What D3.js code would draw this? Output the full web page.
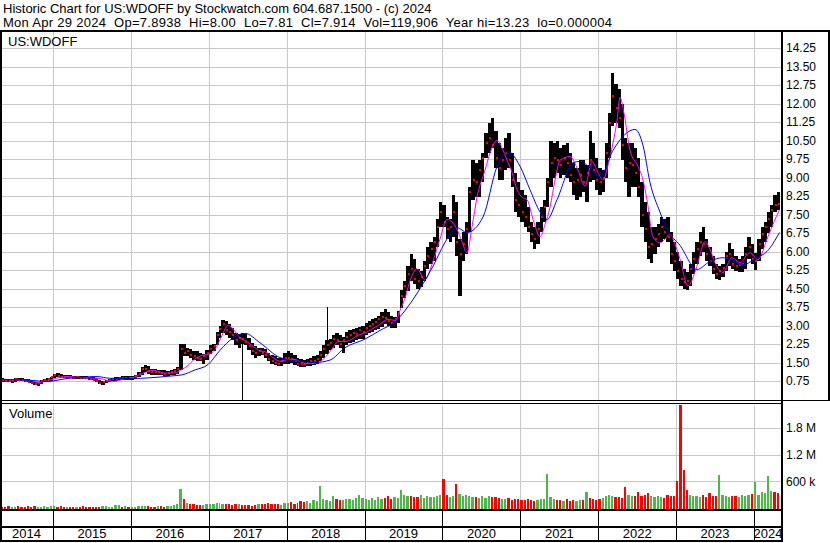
<!DOCTYPE html>
<html><head><meta charset="utf-8">
<script src="https://cdn.jsdelivr.net/npm/d3@7"></script>
<style>
html,body{margin:0;padding:0;background:#fff;}
svg{display:block;}
text{font-family:"Liberation Sans",Arial,sans-serif;fill:#000;}
</style></head><body>
<svg id="c" width="830" height="543"></svg>
<script>
const headerLine1 = "Historic Chart for US:WDOFF by Stockwatch.com 604.687.1500 - (c) 2024";
const headerLine2 = "Mon Apr 29 2024  Op=7.8938  Hi=8.00  Lo=7.81  Cl=7.914  Vol=119,906  Year hi=13.23  lo=0.000004";
const symbolLabel = "US:WDOFF";
const volumeLabel = "Volume";
const priceTicks = [0.75,1.5,2.25,3,3.75,4.5,5.25,6,6.75,7.5,8.25,9,9.75,10.5,11.25,12,12.75,13.5,14.25];
const volumeTicks = [600000,1200000,1800000];
const volumeTickLabels = ["600 k","1.2 M","1.8 M"];
const yearLabels = ["2014","2015","2016","2017","2018","2019","2020","2021","2022","2023","2024"];
const firstPeriod = "2014-05-01";
const lastDate = "2024-04-29";

// half-month periods: [low, high, close]
const px2014 = [[0.72,0.86,0.78],[0.70,0.84,0.76],[0.70,0.82,0.74],[0.68,0.80,0.77],[0.72,0.86,0.82],[0.74,0.88,0.80],[0.74,0.86,0.78],[0.72,0.84,0.76],[0.70,0.82,0.72],[0.66,0.78,0.68],[0.58,0.72,0.62],[0.55,0.70,0.66],[0.62,0.78,0.74],[0.70,0.84,0.80],[0.74,0.88,0.84],[0.76,0.92,0.90]];
const px2015 = [[0.88,1.05,0.98],[0.90,1.08,0.95],[0.88,1.04,0.92],[0.86,1.00,0.90],[0.84,0.98,0.92],[0.86,0.98,0.90],[0.84,0.96,0.88],[0.84,0.96,0.90],[0.82,0.95,0.88],[0.84,0.96,0.89],[0.82,0.94,0.86],[0.80,0.93,0.84],[0.78,0.92,0.80],[0.72,0.86,0.74],[0.64,0.80,0.66],[0.60,0.76,0.70],[0.66,0.80,0.76],[0.70,0.84,0.79],[0.74,0.88,0.82],[0.76,0.90,0.85],[0.78,0.92,0.87],[0.80,0.94,0.86],[0.80,0.94,0.88],[0.80,0.95,0.86]];
const px2016 = [[0.80,0.95,0.88],[0.82,0.98,0.94],[0.90,1.10,1.05],[1.00,1.30,1.22],[1.10,1.40,1.25],[1.05,1.35,1.15],[1.00,1.25,1.12],[1.00,1.22,1.10],[0.98,1.20,1.12],[1.00,1.20,1.08],[0.95,1.18,1.05],[0.95,1.15,1.08],[0.98,1.20,1.12],[1.00,1.25,1.15],[1.05,1.30,1.25],[1.20,2.25,2.05],[1.75,2.25,1.90],[1.75,2.10,1.95],[1.70,2.05,1.80],[1.60,1.95,1.75],[1.55,1.95,1.70],[1.55,1.90,1.65],[1.45,1.85,1.75],[1.60,2.00,1.90]];
const px2017 = [[1.85,2.20,2.05],[1.95,2.25,2.15],[2.20,2.75,2.60],[2.50,3.00,2.85],[2.70,3.24,3.05],[2.60,3.20,2.80],[2.50,3.05,2.75],[2.40,2.90,2.60],[2.20,2.70,2.40],[2.10,2.65,2.50],[2.25,2.70,2.45],[2.20,2.65,2.35],[2.00,2.50,2.15],[1.80,2.30,1.95],[1.70,2.15,1.90],[1.75,2.10,1.95],[1.80,2.10,1.90],[1.70,2.05,1.80],[1.55,1.90,1.65],[1.45,1.80,1.55],[1.40,1.75,1.50],[1.35,1.70,1.45],[1.35,1.70,1.55],[1.45,1.90,1.70]];
const px2018 = [[1.45,1.95,1.70],[1.50,1.90,1.65],[1.40,1.80,1.55],[1.35,1.70,1.45],[1.30,1.65,1.42],[1.30,1.60,1.45],[1.35,1.65,1.50],[1.35,1.70,1.55],[1.40,1.75,1.58],[1.45,1.80,1.65],[1.55,1.95,1.80],[1.70,2.20,2.05],[1.85,2.40,2.20],[2.00,2.45,2.30],[2.10,2.60,2.45],[2.20,2.70,2.40],[2.10,2.60,2.25],[1.90,2.55,2.40],[2.20,2.75,2.55],[2.30,2.80,2.60],[2.35,2.85,2.70],[2.40,2.90,2.65],[2.45,2.95,2.80],[2.45,3.00,2.75]];
const px2019 = [[2.60,3.10,2.90],[2.70,3.20,3.00],[2.75,3.25,3.05],[2.80,3.30,3.15],[2.85,3.40,3.25],[2.95,3.55,3.35],[3.05,3.65,3.30],[3.00,3.55,3.20],[2.90,3.40,3.10],[2.90,3.35,3.25],[3.10,3.60,3.50],[3.70,4.45,4.20],[4.10,4.80,4.60],[4.40,5.40,5.10],[4.80,5.90,5.30],[4.70,5.70,4.90],[4.50,5.30,4.80],[4.55,5.20,4.95],[4.80,5.60,5.40],[5.30,6.20,5.80],[5.50,6.40,6.10],[5.60,6.60,6.40],[6.20,7.30,7.00],[7.00,8.00,7.60]];
const px2020 = [[7.00,7.90,7.20],[6.50,7.40,6.90],[6.40,7.30,7.00],[6.60,8.30,7.60],[5.80,8.00,6.40],[4.20,6.50,5.90],[5.60,6.80,6.30],[5.90,7.20,6.90],[6.80,8.60,8.40],[8.10,9.70,8.90],[8.20,9.60,8.80],[8.20,9.70,9.30],[8.80,10.00,9.80],[9.80,10.80,10.40],[10.00,11.20,10.60],[10.20,11.40,10.30],[9.40,10.90,9.80],[8.90,10.40,9.40],[8.90,10.20,9.70],[9.30,10.60,10.00],[9.40,10.80,9.70],[8.60,10.00,8.90],[7.60,9.20,8.10],[7.40,8.80,7.90]];
const px2021 = [[7.20,8.50,7.60],[7.00,8.30,7.40],[6.80,7.80,7.00],[6.40,7.20,6.70],[6.10,7.00,6.50],[6.30,7.20,6.90],[6.80,7.80,7.40],[7.20,8.10,7.80],[7.80,9.00,8.80],[8.60,10.50,9.60],[9.00,10.40,9.80],[9.20,10.50,9.70],[9.00,10.20,9.50],[9.10,10.30,9.80],[9.00,10.40,9.60],[8.80,10.00,9.10],[8.30,9.60,8.80],[8.10,9.40,8.90],[8.20,9.70,9.10],[8.40,9.70,8.80],[8.00,9.50,9.20],[8.80,10.90,9.70],[8.90,10.40,9.30],[8.50,9.80,8.90]];
const px2022 = [[8.30,9.40,8.80],[8.40,9.30,9.00],[9.00,10.40,10.00],[9.80,11.60,11.20],[11.10,13.23,12.30],[11.20,12.80,11.80],[11.00,12.60,11.40],[9.70,12.00,10.30],[8.80,10.60,9.40],[8.20,10.40,9.60],[8.60,10.40,9.50],[8.60,10.20,9.20],[8.20,9.80,8.60],[7.00,8.80,7.50],[6.40,8.00,6.90],[5.70,7.60,6.20],[5.55,7.00,6.30],[5.90,7.00,6.50],[6.20,7.10,6.70],[6.40,7.40,7.00],[6.50,7.30,6.80],[6.40,7.40,6.60],[5.50,6.80,5.90],[5.20,6.40,5.60]];
const px2023 = [[4.90,6.00,5.20],[4.60,5.60,4.90],[4.50,5.30,4.75],[4.45,5.15,4.80],[4.60,5.50,5.30],[5.10,6.00,5.70],[5.50,6.40,6.10],[5.80,6.80,6.40],[6.00,7.00,6.30],[5.60,6.50,5.90],[5.40,6.20,5.60],[5.10,5.80,5.30],[4.90,5.50,5.10],[4.85,5.40,5.20],[4.95,5.50,5.35],[5.20,6.00,5.80],[5.40,6.35,5.90],[5.30,6.10,5.50],[5.20,5.80,5.40],[5.15,5.70,5.45],[5.15,5.80,5.50],[5.30,6.20,5.90],[5.70,6.60,6.20],[5.50,6.30,5.70]];
const px2024 = [[5.25,5.95,5.60],[5.60,6.50,6.30],[6.10,7.00,6.70],[6.40,7.20,7.00],[6.75,7.60,7.30],[7.00,7.90,7.70],[7.60,8.30,7.90],[7.70,8.40,7.914]];

// single-day spikes: [date, low, high]
const spikes = [["2017-06-07",0.0,2.6],["2018-07-08",1.9,3.75]];

// half-month volume (thousands of shares, peak day)
const vol2014 = [30,25,35,20,30,40,25,30,35,20,40,30,25,35,30,40];
const vol2015 = [40,30,35,25,30,20,25,30,20,35,25,30,20,25,30,40,35,30,25,70,60,30,35,25];
const vol2016 = [25,30,35,40,45,35,30,30,35,40,30,35,40,60,100,430,200,110,90,80,70,60,70,80];
const vol2017 = [90,80,110,120,100,90,80,70,90,80,60,70,60,50,70,80,100,90,120,80,90,100,70,110];
const vol2018 = [110,130,100,120,150,140,160,120,180,150,500,200,180,160,270,200,180,170,210,200,190,220,300,230];
const vol2019 = [200,180,220,190,250,210,230,260,200,240,220,400,300,280,260,250,240,290,230,270,250,240,280,300];
const vol2020 = [650,300,250,280,530,320,280,300,260,240,250,230,270,220,280,250,240,230,210,200,220,190,210,200];
const vol2021 = [190,180,200,170,160,180,200,210,765,250,200,180,170,160,200,150,180,160,170,190,350,220,200,180];
const vol2022 = [200,230,260,300,280,250,240,230,480,300,270,260,360,280,300,330,260,240,280,250,230,300,260,280];
const vol2023 = [600,2315,850,400,300,280,260,240,300,250,330,280,260,740,300,270,250,260,280,250,300,270,290,310];
const vol2024 = [580,300,360,330,720,380,350,340];

// moving averages: [decimal year, value]
const maFast = [[2014.333,0.80],[2014.576,0.79],[2014.705,0.78],[2014.807,0.69],[2014.910,0.74],[2015.026,0.85],[2015.180,0.93],[2015.411,0.88],[2015.603,0.85],[2015.770,0.73],[2015.924,0.84],[2016.027,0.89],[2016.181,1.10],[2016.284,1.18],[2016.438,1.07],[2016.566,1.08],[2016.656,1.22],[2016.720,1.35],[2016.823,1.65],[2016.926,1.80],[2017.015,1.85],[2017.092,2.10],[2017.169,2.60],[2017.246,3.02],[2017.324,2.80],[2017.401,2.50],[2017.490,2.35],[2017.567,2.15],[2017.657,1.98],[2017.747,1.90],[2017.824,1.70],[2017.914,1.55],[2018.017,1.62],[2018.107,1.62],[2018.196,1.50],[2018.299,1.45],[2018.402,1.50],[2018.492,1.70],[2018.582,2.05],[2018.659,2.35],[2018.748,2.35],[2018.838,2.45],[2018.915,2.60],[2019.005,2.70],[2019.095,2.85],[2019.198,3.05],[2019.300,3.25],[2019.403,3.20],[2019.454,3.60],[2019.519,4.10],[2019.583,4.80],[2019.673,5.30],[2019.775,4.85],[2019.878,5.60],[2019.968,6.50],[2020.058,7.30],[2020.122,7.20],[2020.186,6.90],[2020.250,6.40],[2020.315,5.95],[2020.379,7.00],[2020.443,8.20],[2020.546,9.30],[2020.610,10.00],[2020.700,10.50],[2020.764,10.20],[2020.828,9.70],[2020.892,9.20],[2020.956,8.50],[2021.021,8.20],[2021.085,8.10],[2021.162,7.30],[2021.252,6.60],[2021.316,7.10],[2021.380,7.80],[2021.444,8.90],[2021.508,9.70],[2021.637,9.85],[2021.739,9.30],[2021.829,8.65],[2021.919,9.65],[2021.996,9.20],[2022.060,8.90],[2022.125,9.50],[2022.189,10.40],[2022.240,11.30],[2022.279,12.25],[2022.330,11.60],[2022.407,10.10],[2022.510,9.45],[2022.574,8.90],[2022.625,8.10],[2022.702,6.60],[2022.792,6.35],[2022.856,6.50],[2022.920,6.70],[2022.985,6.30],[2023.049,5.70],[2023.151,4.60],[2023.267,5.40],[2023.370,6.40],[2023.434,6.10],[2023.498,5.55],[2023.601,5.15],[2023.716,5.75],[2023.819,5.55],[2023.947,5.95],[2024.050,5.67],[2024.166,6.50],[2024.243,7.10],[2024.326,7.70]];
const maSlow = [[2014.333,0.82],[2014.576,0.80],[2014.743,0.77],[2014.923,0.73],[2015.180,0.85],[2015.565,0.93],[2015.732,0.86],[2016.001,0.85],[2016.245,0.88],[2016.502,0.95],[2016.656,1.00],[2016.823,1.20],[2016.990,1.42],[2017.144,2.00],[2017.311,2.50],[2017.465,2.68],[2017.657,2.30],[2017.914,1.70],[2018.171,1.55],[2018.363,1.50],[2018.556,1.60],[2018.748,2.10],[2019.005,2.45],[2019.198,2.80],[2019.390,3.15],[2019.621,4.05],[2019.878,5.40],[2020.058,6.50],[2020.186,6.97],[2020.315,6.77],[2020.520,7.40],[2020.700,9.45],[2020.841,10.05],[2020.995,9.45],[2021.123,8.50],[2021.252,7.60],[2021.342,7.30],[2021.470,8.10],[2021.675,9.60],[2021.765,9.65],[2021.893,9.40],[2022.022,9.05],[2022.189,10.10],[2022.343,10.75],[2022.471,10.95],[2022.574,10.30],[2022.664,8.80],[2022.792,7.60],[2022.882,6.90],[2023.049,6.25],[2023.267,5.27],[2023.434,5.60],[2023.601,5.75],[2023.729,5.60],[2023.858,5.47],[2024.037,5.75],[2024.166,6.00],[2024.326,6.77]];

// ---------- build ----------
const prices = [].concat(px2014,px2015,px2016,px2017,px2018,px2019,px2020,px2021,px2022,px2023,px2024);
const volumes = [].concat(vol2014,vol2015,vol2016,vol2017,vol2018,vol2019,vol2020,vol2021,vol2022,vol2023,vol2024);
const parse = d3.timeParse("%Y-%m-%d");
const start = parse(firstPeriod);
const periodStarts = [];
d3.timeMonth.range(start, d3.timeMonth.offset(start, 120)).forEach(m => {
  periodStarts.push(m);
  periodStarts.push(new Date(m.getFullYear(), m.getMonth(), 16));
});
const bounds = periodStarts.concat([d3.timeMonth.offset(start,120)]);
const yd = v => { const Y = Math.floor(v), s = new Date(Y,0,1), e = new Date(Y+1,0,1); return new Date(+s + (v-Y)*(e-s)); };

const svg = d3.select("#c");
const plotL = 2, plotR = 782;
const x = d3.scaleTime().domain([new Date(2015,0,1), new Date(2024,0,1)]).range([53,754]);
const y = d3.scaleLinear().domain([0,14.25]).range([399.5,48]);
const yv = d3.scaleLinear().domain([0,1800000]).range([508,428]);

svg.append("rect").attr("width",830).attr("height",543).attr("fill","#fff");

// header
svg.append("text").attr("x",3).attr("y",13).attr("font-size",13).style("white-space","pre").text(headerLine1);
svg.append("text").attr("x",3).attr("y",27).attr("font-size",13).style("white-space","pre")
  .attr("textLength",609).attr("lengthAdjust","spacing").text(headerLine2);

const gridColor = "#c8c8c8";
const yearTicks = d3.timeYear.range(new Date(2015,0,1), new Date(2024,0,2));

// gridlines via axes
const gy = svg.append("g").attr("transform",`translate(${plotL},0)`)
  .call(d3.axisRight(y).tickValues(priceTicks).tickSize(plotR-plotL).tickFormat(""));
gy.select(".domain").remove();
gy.selectAll("line").attr("stroke",gridColor).attr("shape-rendering","crispEdges");
const gxp = svg.append("g").attr("transform","translate(0,32)")
  .call(d3.axisBottom(x).tickValues(yearTicks).tickSize(368).tickFormat(""));
gxp.select(".domain").remove();
gxp.selectAll("line").attr("stroke",gridColor).attr("shape-rendering","crispEdges");
const gyv = svg.append("g").attr("transform",`translate(${plotL},0)`)
  .call(d3.axisRight(yv).tickValues(volumeTicks).tickSize(plotR-plotL).tickFormat(""));
gyv.select(".domain").remove();
gyv.selectAll("line").attr("stroke",gridColor).attr("shape-rendering","crispEdges");
const gxv = svg.append("g").attr("transform","translate(0,405)")
  .call(d3.axisBottom(x).tickValues(yearTicks).tickSize(104).tickFormat(""));
gxv.select(".domain").remove();
gxv.selectAll("line").attr("stroke",gridColor).attr("shape-rendering","crispEdges");

// clip for price panel
const defs = svg.append("defs");
defs.append("clipPath").attr("id","pc").append("rect").attr("x",plotL).attr("y",32).attr("width",plotR-plotL-1).attr("height",368);
const pg = svg.append("g").attr("clip-path","url(#pc)");

// price bars
const bx0 = i => Math.round(x(bounds[i]));
const bx1 = i => Math.round(x(bounds[i+1]));
pg.append("g").selectAll("rect").data(prices).join("rect")
  .attr("x",(d,i)=>bx0(i)).attr("width",(d,i)=>Math.max(1,bx1(i)-bx0(i)))
  .attr("y",d=>Math.round(y(d[1]))).attr("height",d=>Math.max(1,Math.round(y(d[0]))-Math.round(y(d[1]))))
  .attr("fill","#000").attr("shape-rendering","crispEdges");
pg.append("g").selectAll("rect").data(spikes).join("rect")
  .attr("x",d=>Math.round(x(parse(d[0])))).attr("width",1)
  .attr("y",d=>Math.round(y(d[2]))).attr("height",d=>Math.round(y(d[1]))-Math.round(y(d[2])))
  .attr("fill","#000").attr("shape-rendering","crispEdges");
// red close marks
pg.append("g").selectAll("rect").data(prices).join("rect")
  .attr("x",(d,i)=>bx1(i)-2).attr("width",2)
  .attr("y",d=>Math.round(y(d[2]))-1).attr("height",2)
  .attr("fill","#ff0000").attr("shape-rendering","crispEdges");

// moving averages
const line = d3.line().x(d=>x(yd(d[0]))).y(d=>y(d[1])).curve(d3.curveMonotoneX);
pg.append("path").datum(maFast).attr("d",line).attr("fill","none").attr("stroke","#ff00ff").attr("stroke-width",1);
pg.append("path").datum(maSlow).attr("d",line).attr("fill","none").attr("stroke","#0000ff").attr("stroke-width",1);

// volume bars: green when the period closed in the upper half of its range
svg.append("g").selectAll("rect").data(volumes).join("rect")
  .attr("x",(d,i)=>bx0(i)).attr("width",(d,i)=>Math.max(1,bx1(i)-bx0(i)-1))
  .attr("y",d=>Math.round(yv(d*1000))).attr("height",d=>Math.max(1,509-Math.round(yv(d*1000))))
  .attr("fill",(d,i)=> (prices[i][2] >= (prices[i][0]+prices[i][1])/2) ? "#4cb848" : "#ff0000")
  .attr("shape-rendering","crispEdges");

// labels inside panels
svg.append("text").attr("x",8).attr("y",46).attr("font-size",13).text(symbolLabel);
svg.append("text").attr("x",9).attr("y",418).attr("font-size",13).text(volumeLabel);

// right axes labels
const ay = svg.append("g").attr("transform",`translate(${plotR},0)`)
  .call(d3.axisRight(y).tickValues(priceTicks).tickSize(0).tickPadding(4).tickFormat(d3.format(".2f")));
ay.select(".domain").remove();
ay.selectAll("text").attr("font-size",12).attr("font-family","Liberation Sans, Arial, sans-serif").attr("fill","#000");
const av = svg.append("g").attr("transform",`translate(${plotR},0)`)
  .call(d3.axisRight(yv).tickValues(volumeTicks).tickSize(0).tickPadding(4).tickFormat((d,i)=>volumeTickLabels[i]));
av.select(".domain").remove();
av.selectAll("text").attr("font-size",12).attr("font-family","Liberation Sans, Arial, sans-serif").attr("fill","#000");

// frame lines
const fr = svg.append("g").attr("shape-rendering","crispEdges");
const hl = (x1,x2,yy,w) => fr.append("rect").attr("x",x1).attr("y",yy).attr("width",x2-x1).attr("height",w).attr("fill","#000");
const vl = (xx,y1,y2,w) => fr.append("rect").attr("x",xx).attr("y",y1).attr("width",w).attr("height",y2-y1).attr("fill","#000");
hl(0,830,30,2);
hl(0,830,400,1);
hl(0,782,403,1);
hl(0,782,509,2);
hl(0,782,526,2);
hl(0,782,540,2);
vl(0,30,542,2);
vl(781,30,542,2);
vl(828,30,401,2);
yearTicks.forEach(t => vl(Math.round(x(t)),511,540,1));

// year labels
const yearStarts = yearLabels.map(s=>new Date(+s,0,1));
svg.append("g").selectAll("text").data(yearLabels).join("text")
  .attr("x",(d,i)=>{ const a=Math.max(0,x(yearStarts[i])), b=Math.min(plotR,x(new Date(+d+1,0,1))); return (a+b)/2; })
  .attr("y",538).attr("text-anchor","middle").attr("font-size",13).text(d=>d);
</script>
</body></html>
